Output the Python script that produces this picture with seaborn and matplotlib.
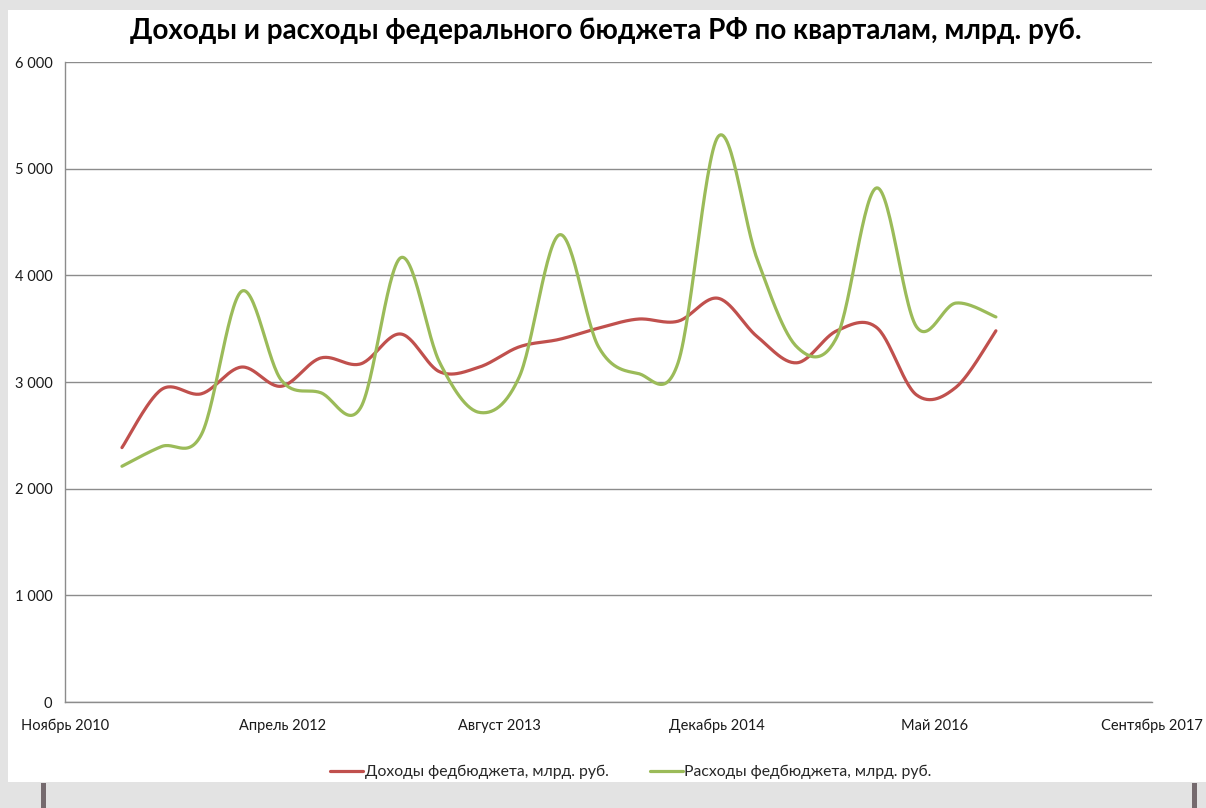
import matplotlib
matplotlib.use('Agg')
import matplotlib.pyplot as plt
import matplotlib.dates as mdates
from matplotlib.patches import Rectangle
import seaborn as sns
import pandas as pd
import numpy as np

# Кварталы: 1 кв. 2011 - 3 кв. 2016 (даты на конец квартала)
quarters = pd.date_range('2011-03-31', periods=23, freq='QE')

# Значения, млрд. руб.
dohody = [2385, 2930, 2890, 3140, 2960, 3225, 3170, 3450, 3095, 3140, 3330, 3400,
          3505, 3590, 3570, 3785, 3425, 3180, 3480, 3510, 2880, 2950, 3480]
rashody = [2210, 2395, 2510, 3850, 3020, 2900, 2760, 4165, 3180, 2715, 3050, 4380,
           3330, 3080, 3180, 5300, 4150, 3330, 3420, 4820, 3520, 3740, 3610]

series_names = ['Доходы федбюджета, млрд. руб.', 'Расходы федбюджета, млрд. руб.']
colors = ['#c0504d', '#9bbb59']

# Ось дат (шаг 500 дней, как в Excel)
axis_start = pd.Timestamp('2010-11-20')
xtick_dates = [axis_start + pd.Timedelta(days=500 * k) for k in range(6)]
xtick_labels = ['Ноябрь 2010', 'Апрель 2012', 'Август 2013', 'Декабрь 2014',
                'Май 2016', 'Сентябрь 2017']
yticks = [0, 1000, 2000, 3000, 4000, 5000, 6000]
ytick_labels = ['0', '1\u00a0000', '2\u00a0000', '3\u00a0000', '4\u00a0000',
                '5\u00a0000', '6\u00a0000']


def smooth(x, y, n=30):
    # сглаживание как у сглаженной линии Excel (кривые Безье)
    x = np.asarray(x, float)
    y = np.asarray(y, float)
    xp = np.concatenate([[x[0]], x, [x[-1]]])
    yp = np.concatenate([[y[0]], y, [y[-1]]])
    t = np.linspace(0, 1, n, endpoint=False)
    out_x, out_y = [], []
    for i in range(len(x) - 1):
        for arr, src, out in ((xp, x, out_x), (yp, y, out_y)):
            p0, p3 = src[i], src[i + 1]
            c1 = p0 + (arr[i + 2] - arr[i]) / 6
            c2 = p3 - (arr[i + 3] - arr[i + 1]) / 6
            out.extend((1 - t) ** 3 * p0 + 3 * (1 - t) ** 2 * t * c1
                       + 3 * (1 - t) * t ** 2 * c2 + t ** 3 * p3)
    out_x.append(x[-1])
    out_y.append(y[-1])
    return np.array(out_x), np.array(out_y)


xnum = mdates.date2num(quarters.to_pydatetime())
frames = []
for name, vals in zip(series_names, [dohody, rashody]):
    sx, sy = smooth(xnum, vals)
    frames.append(pd.DataFrame({'x': sx, 'value': sy, 'series': name}))
df = pd.concat(frames, ignore_index=True)

sns.set_style('white')
plt.rcParams['font.family'] = ['Lato', 'DejaVu Sans']

fig = plt.figure(figsize=(12.06, 8.08), dpi=100)
fig.patch.set_facecolor('#e3e3e3')
W, H = 1206, 808
# белая область диаграммы
fig.patches.append(Rectangle((8 / W, 1 - 782 / H), 1 - 8 / W, (782 - 10) / H,
                             transform=fig.transFigure, facecolor='white',
                             edgecolor='none', zorder=-10))
for bx in (41, 1192):
    fig.patches.append(Rectangle((bx / W, 0), 5 / W, (808 - 783) / H,
                                 transform=fig.transFigure, facecolor='#756a6e',
                                 edgecolor='none', zorder=-10))

ax = fig.add_axes([65 / W, 1 - 702 / H, (1152 - 65) / W, (702 - 62) / H])
ax.set_zorder(1)
ax.set_facecolor('white')

sns.lineplot(data=df, x='x', y='value', hue='series', palette=colors,
             linewidth=2.3, sort=False, estimator=None, ax=ax)

ax.set_xlim(mdates.date2num(xtick_dates[0]), mdates.date2num(xtick_dates[-1]))
ax.set_ylim(0, 6000)
ax.set_xticks(mdates.date2num(xtick_dates))
ax.set_xticklabels(xtick_labels)
ax.set_yticks(yticks)
ax.set_yticklabels(ytick_labels)
ax.set_xlabel('')
ax.set_ylabel('')

ax.grid(axis='y', color='#8c8c8c', linewidth=1)
ax.grid(axis='x', visible=False)
ax.set_axisbelow(True)
for side in ('top', 'right'):
    ax.spines[side].set_visible(False)
for side in ('left', 'bottom'):
    ax.spines[side].set_color('#8c8c8c')
    ax.spines[side].set_linewidth(1)
ax.tick_params(axis='both', direction='out', length=5, width=1, color='#8c8c8c',
               labelsize=10.5, labelcolor='#1a1a1a')
ax.tick_params(axis='x', pad=7)
ax.tick_params(axis='y', pad=4)

handles, labels = ax.get_legend_handles_labels()
ax.get_legend().remove()
fig.legend(handles, labels, loc='center', bbox_to_anchor=(631 / W, 1 - 772 / H),
           ncol=2, frameon=False, fontsize=11.3, handlelength=2.1,
           handletextpad=0.1, columnspacing=2.6)

fig.text(606 / W, 1 - 30 / H,
         'Доходы и расходы федерального бюджета РФ по кварталам, млрд. руб.',
         ha='center', va='center', fontsize=20, fontweight='bold', color='black')

fig.savefig('out.png', dpi=100, facecolor=fig.get_facecolor())
